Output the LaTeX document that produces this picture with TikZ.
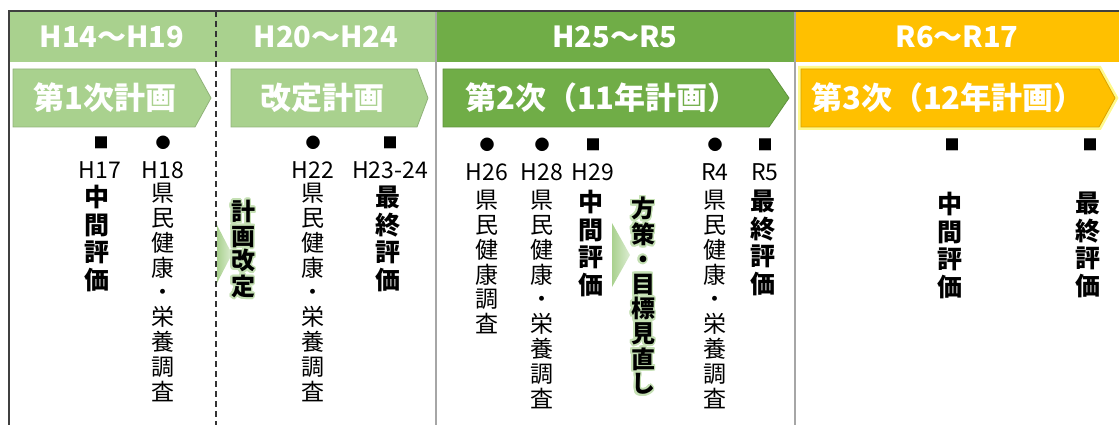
\documentclass[tikz,border=0pt]{standalone}
\usepackage{fontspec}
\setmainfont{Noto Sans CJK JP}
\usepackage{contour}
\contourlength{1.8pt}
\contournumber{20}
\definecolor{lgreen}{HTML}{A9D18E}
\definecolor{mgreen}{HTML}{70AD47}
\definecolor{gold}{HTML}{FFC000}
\definecolor{glowgreen}{HTML}{C5E0B4}
\definecolor{gridgray}{HTML}{A6A6A6}
\newcommand{\gl}[1]{\contour{glowgreen}{#1}}

\begin{document}
\begin{tikzpicture}[x=1pt, y=-1pt,
		  hdr/.style={font=\bfseries\fontsize{29}{32}\selectfont, text=white, inner sep=0pt},
		  plan/.style={draw=#1!85!black, fill=#1, line width=0.8pt},
		  plantxt/.style={font=\bfseries\fontsize{31}{34}\selectfont, text=white, inner sep=0pt},
		  sym/.style={font=\fontsize{15}{15}\selectfont, inner sep=0pt},
		  yr/.style={font=\fontsize{23}{23}\selectfont, inner sep=0pt},
		  survey/.style={font=\fontsize{23}{24.8}\selectfont, align=center, inner sep=0pt, anchor=north},
		  evalv/.style={font=\bfseries\fontsize{25}{27.5}\selectfont, align=center, inner sep=0pt, anchor=north},
		  revise/.style={font=\bfseries\fontsize{24}{24.6}\selectfont, align=center, inner sep=0pt, anchor=north},
		  tri/.style={left color=lgreen, right color=glowgreen!60, draw=none}
		]
		\useasboundingbox (0,0) rectangle (1119,425);
		% header row
		\fill[lgreen] (9,11) rectangle (436,62);
		\fill[mgreen] (436,11) rectangle (795,62);
		\fill[gold] (795,11) rectangle (1119,62);
		\node[hdr] (h1) at (112,37) {H14～H19};
		\node[hdr] (h2) at (326,37) {H20～H24};
		\node[hdr] (h3) at (615,37) {H25～R5};
		\node[hdr] (h4) at (957,37) {R6～R17};
		
		% frame and dividers
		\draw[gridgray, line width=1.2pt] (436,11) -- (436,425);
		\draw[gridgray, line width=1.2pt] (795,11) -- (795,425);
		\draw[black!80, line width=1.2pt, dash pattern=on 6pt off 4pt] (216,11) -- (216,425);
		\draw[black!75, line width=1.5pt] (9,425) -- (9,11) -- (1119,11);
		
		% plan arrows
		\draw[plan=lgreen] (13,69) -- (195,69) -- (211,98) -- (195,127) -- (13,127) -- cycle;
		\draw[plan=lgreen] (231,69) -- (417,69) -- (428,98) -- (417,127) -- (231,127) -- cycle;
		\draw[plan=mgreen] (443,69) -- (769,69) -- (789,98) -- (769,127) -- (443,127) -- cycle;
		\draw[plan=gold, preaction={draw=yellow!45, line width=6pt}] (801,69) -- (1099,69) -- (1115,98) -- (1099,127) -- (801,127) -- cycle;
		\node[plantxt] (p1) at (105,98) {第1次計画};
		\node[plantxt] (p2) at (322,98) {改定計画};
		\node[plantxt] (p3) at (602,98) {第2次（11年計画）};
		\node[plantxt] (p4) at (948,98) {第3次（12年計画）};
		
		% H14-H19
		\node[sym] (m17) at (101,143) {■};
		\node[yr] (y17) at (100,170) {H17};
		\node[evalv] (e17) at (97,185) {中\\間\\評\\価};
		\node[sym] (m18) at (163,143) {●};
		\node[yr] (y18) at (163,170) {H18};
		\node[survey] (s18) at (163,183) {県\\民\\健\\康\\・\\栄\\養\\調\\査};
		\shade[tri] (217,225) -- (232,254) -- (217,283) -- cycle;
		\node[revise] (r1) at (243,200) {\gl{計}\\\gl{画}\\\gl{改}\\\gl{定}};
		
		% H20-H24
		\node[sym] (m22) at (313,143) {●};
		\node[yr] (y22) at (313,170) {H22};
		\node[survey] (s22) at (313,183) {県\\民\\健\\康\\・\\栄\\養\\調\\査};
		\node[sym] (m23) at (390,143) {■};
		\node[yr] (y23) at (390,170) {H23-24};
		\node[evalv] (e23) at (388,186) {最\\終\\評\\価};
		
		% H25-R5
		\node[sym] (m26) at (487,145) {●};
		\node[yr] (y26) at (487,172) {H26};
		\node[survey] (s26) at (487,190) {県\\民\\健\\康\\調\\査};
		\node[sym] (m28) at (542,145) {●};
		\node[yr] (y28) at (542,172) {H28};
		\node[survey] (s28) at (542,190) {県\\民\\健\\康\\・\\栄\\養\\調\\査};
		\node[sym] (m29) at (593,145) {■};
		\node[yr] (y29) at (593,172) {H29};
		\node[evalv] (e29) at (591,190) {中\\間\\評\\価};
		\shade[tri] (612,223) -- (630,255) -- (612,287) -- cycle;
		\node[revise] (r2) at (643,197) {\gl{方}\\\gl{策}\\\gl{・}\\\gl{目}\\\gl{標}\\\gl{見}\\\gl{直}\\\gl{し}};
		\node[sym] (m4) at (715,145) {●};
		\node[yr] (y4) at (715,172) {R4};
		\node[survey] (s4) at (715,190) {県\\民\\健\\康\\・\\栄\\養\\調\\査};
		\node[sym] (m5) at (765,145) {■};
		\node[yr] (y5) at (765,172) {R5};
		\node[evalv] (e5) at (763,190) {最\\終\\評\\価};
		
		% R6-R17
		\node[sym] (m11) at (952,145) {■};
		\node[evalv] (e11) at (950,192) {中\\間\\評\\価};
		\node[sym] (m17b) at (1090,145) {■};
		\node[evalv] (e17b) at (1088,192) {最\\終\\評\\価};
\end{tikzpicture}
\end{document}
